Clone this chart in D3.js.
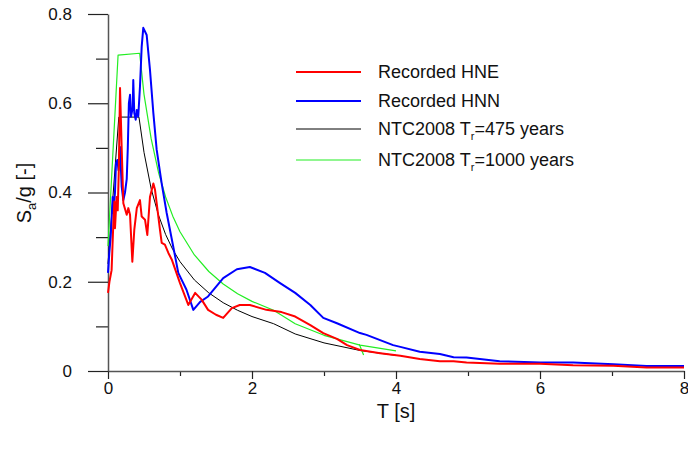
<!DOCTYPE html>
<html>
<head>
<meta charset="utf-8">
<script src="https://cdn.jsdelivr.net/npm/d3@7"></script>
<style>
  html, body { margin: 0; padding: 0; background: #fff; }
  svg text { font-family: "Liberation Sans", Arial, sans-serif; fill: #111; }
</style>
</head>
<body>
<svg id="chart" width="688" height="453"></svg>
<script>
// Spectral acceleration values, [T (s), Sa/g]
const recordedHNE = [
  [0, 0.175], [0.02, 0.2], [0.05, 0.226], [0.06, 0.27], [0.074, 0.33], [0.088, 0.38],
  [0.097, 0.32], [0.12, 0.39], [0.135, 0.36], [0.15, 0.45], [0.167, 0.634], [0.19, 0.5],
  [0.213, 0.376], [0.26, 0.35], [0.282, 0.365], [0.306, 0.35], [0.338, 0.245], [0.365, 0.316],
  [0.40, 0.365], [0.444, 0.383], [0.468, 0.346], [0.514, 0.339], [0.546, 0.305], [0.583, 0.39],
  [0.63, 0.42], [0.653, 0.406], [0.676, 0.376], [0.722, 0.316], [0.746, 0.287], [0.79, 0.283],
  [0.84, 0.264], [0.885, 0.25], [1.0, 0.197], [1.115, 0.148], [1.21, 0.175], [1.30, 0.16],
  [1.39, 0.137], [1.5, 0.126], [1.6, 0.119], [1.72, 0.141], [1.83, 0.148], [1.97, 0.148],
  [2.2, 0.137], [2.41, 0.132], [2.6, 0.122], [2.81, 0.103], [2.99, 0.085], [3.18, 0.072],
  [3.32, 0.058], [3.5, 0.047], [3.78, 0.040], [4.06, 0.034], [4.33, 0.027], [4.61, 0.022],
  [4.8, 0.022], [4.98, 0.019], [5.44, 0.016], [6.0, 0.016], [6.46, 0.013], [7.02, 0.012],
  [7.48, 0.008], [8.0, 0.008]
];

const recordedHNN = [
  [0, 0.22], [0.018, 0.264], [0.037, 0.30], [0.05, 0.34], [0.065, 0.39], [0.074, 0.354],
  [0.097, 0.40], [0.111, 0.466], [0.13, 0.473], [0.146, 0.45], [0.167, 0.502], [0.176, 0.466],
  [0.19, 0.413], [0.213, 0.383], [0.236, 0.40], [0.26, 0.43], [0.275, 0.5], [0.29, 0.6],
  [0.306, 0.619], [0.32, 0.57], [0.343, 0.59], [0.351, 0.652], [0.365, 0.578], [0.385, 0.563],
  [0.40, 0.585], [0.42, 0.57], [0.444, 0.637], [0.468, 0.727], [0.49, 0.769], [0.537, 0.753],
  [0.583, 0.675], [0.63, 0.578], [0.676, 0.496], [0.746, 0.42], [0.815, 0.354], [0.907, 0.278],
  [0.976, 0.22], [1.09, 0.182], [1.185, 0.137], [1.28, 0.155], [1.39, 0.167], [1.6, 0.208],
  [1.79, 0.228], [1.97, 0.233], [2.18, 0.22], [2.39, 0.197], [2.6, 0.175], [2.81, 0.148],
  [2.99, 0.119], [3.18, 0.107], [3.5, 0.085], [3.59, 0.081], [3.96, 0.058], [4.06, 0.054],
  [4.33, 0.043], [4.61, 0.038], [4.8, 0.031], [4.98, 0.030], [5.44, 0.022], [6.0, 0.019],
  [6.46, 0.019], [7.02, 0.015], [7.48, 0.011], [8.0, 0.011]
];

const ntc475 = [
  [0, 0.24], [0.15, 0.569], [0.43, 0.569], [0.5, 0.49], [0.6, 0.408], [0.7, 0.35],
  [0.8, 0.306], [0.9, 0.272], [1.0, 0.245], [1.2, 0.204], [1.4, 0.175], [1.6, 0.153],
  [1.8, 0.136], [2.0, 0.122], [2.3, 0.106], [2.6, 0.083], [3.0, 0.063], [3.5, 0.046], [4.0, 0.035]
];

const ntc1000 = [
  [0, 0.28], [0.14, 0.708], [0.44, 0.712], [0.5, 0.62], [0.6, 0.52], [0.7, 0.446],
  [0.8, 0.39], [0.9, 0.347], [1.0, 0.312], [1.2, 0.26], [1.4, 0.223], [1.6, 0.195],
  [1.8, 0.173], [2.0, 0.156], [2.3, 0.136], [2.6, 0.106], [3.0, 0.08], [3.5, 0.058], [4.0, 0.045]
];
const ntc1000Spur = [[3.49, 0.06], [3.55, 0.036]];

const xMajorTicks = [0, 2, 4, 6, 8];
const xMinorTicks = [1, 3, 5, 7];
const yMajorTicks = [0, 0.2, 0.4, 0.6, 0.8];
const yMinorTicks = [0.1, 0.3, 0.5, 0.7];

const series = [
  { name: 'ntc475', data: ntc475, color: '#000000', width: 1 },
  { name: 'ntc1000', data: ntc1000, color: '#22ee22', width: 1.2 },
  { name: 'ntc1000spur', data: ntc1000Spur, color: '#22ee22', width: 1.2 },
  { name: 'hnn', data: recordedHNN, color: '#0000ff', width: 2 },
  { name: 'hne', data: recordedHNE, color: '#ff0000', width: 2 }
];

const legendItems = [
  { label: 'Recorded HNE', color: '#ff0000', width: 2 },
  { label: 'Recorded HNN', color: '#0000ff', width: 2 },
  { label: 'NTC2008 T', sub: 'r', rest: '=475 years', color: '#000000', width: 1 },
  { label: 'NTC2008 T', sub: 'r', rest: '=1000 years', color: '#22ee22', width: 1.2 }
];

const svg = d3.select('#chart');
const x = d3.scaleLinear().domain([0, 8]).range([108, 684]);
const y = d3.scaleLinear().domain([0, 0.8]).range([371, 14]);

const axisColor = '#555';

// minor ticks first, majors on top
svg.append('g')
  .attr('transform', `translate(0,${y(0)})`)
  .call(d3.axisBottom(x).tickValues(xMinorTicks).tickSize(5).tickSizeOuter(0).tickFormat(''))
  .call((g) => g.select('.domain').remove());

const xAxis = svg.append('g')
  .attr('transform', `translate(0,${y(0)})`)
  .call(d3.axisBottom(x).tickValues(xMajorTicks).tickSize(8).tickSizeOuter(0).tickPadding(3)
    .tickFormat(d3.format('d')));
xAxis.selectAll('text').style('font-size', '17px');

svg.append('g')
  .attr('transform', `translate(${x(0)},0)`)
  .call(d3.axisLeft(y).tickValues(yMinorTicks).tickSize(12).tickSizeOuter(0).tickFormat(''))
  .call((g) => g.select('.domain').remove());

const yAxis = svg.append('g')
  .attr('transform', `translate(${x(0)},0)`)
  .call(d3.axisLeft(y).tickValues(yMajorTicks).tickSize(20).tickSizeOuter(0).tickPadding(16)
    .tickFormat((d) => (d === 0 ? '0' : d3.format('.1f')(d))));
yAxis.selectAll('text').style('font-size', '17px');

svg.selectAll('.domain').attr('stroke', axisColor).attr('stroke-width', 1.5);
svg.selectAll('.tick line').attr('stroke', '#222').attr('stroke-width', 1.2);

const line = d3.line().x((d) => x(d[0])).y((d) => y(d[1]));

svg.append('g')
  .selectAll('path')
  .data(series)
  .join('path')
  .attr('fill', 'none')
  .attr('stroke', (d) => d.color)
  .attr('stroke-width', (d) => d.width)
  .attr('stroke-linejoin', 'round')
  .attr('d', (d) => line(d.data));

// axis titles
svg.append('text')
  .attr('x', x(4))
  .attr('y', 418)
  .attr('text-anchor', 'middle')
  .style('font-size', '20px')
  .text('T [s]');

const yTitle = svg.append('text')
  .attr('transform', 'translate(31,193) rotate(-90)')
  .attr('text-anchor', 'middle')
  .style('font-size', '20px');
yTitle.append('tspan').text('S');
yTitle.append('tspan').attr('dy', 5).style('font-size', '13px').text('a');
yTitle.append('tspan').attr('dy', -5).text('/g [-]');

// legend
const legendRows = [72, 101, 129, 160];
const legend = svg.append('g');
legendItems.forEach((item, i) => {
  const row = legend.append('g').attr('transform', `translate(0,${legendRows[i]})`);
  row.append('line')
    .attr('x1', 296).attr('x2', 361)
    .attr('stroke', item.color).attr('stroke-width', item.width);
  const t = row.append('text')
    .attr('x', 378).attr('dy', '0.35em')
    .style('font-size', '18px');
  t.append('tspan').text(item.label);
  if (item.sub) {
    t.append('tspan').attr('dy', 5).style('font-size', '11px').text(item.sub);
    t.append('tspan').attr('dy', -5).text(item.rest);
  }
});
</script>
</body>
</html>
